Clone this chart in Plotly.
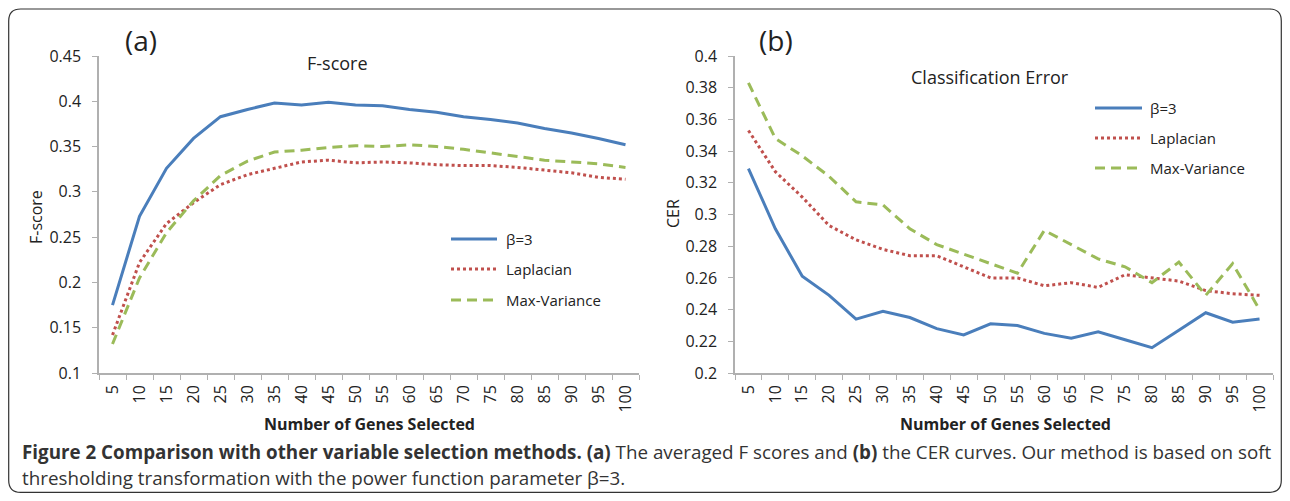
import plotly.graph_objects as go

# figure sized to fit inside the page body (default 8px body margin) of a 1290x501 window
OFF = 8
W, H = 1274, 485

genes = [str(g) for g in range(5, 105, 5)]
series_names = ["β=3", "Laplacian", "Max-Variance"]

fscore_beta3 = [0.175, 0.273, 0.326, 0.359, 0.383, 0.391, 0.398, 0.396, 0.399, 0.396,
                0.395, 0.391, 0.388, 0.383, 0.380, 0.376, 0.370, 0.365, 0.359, 0.352]
fscore_laplacian = [0.142, 0.222, 0.265, 0.288, 0.308, 0.319, 0.326, 0.333, 0.335, 0.332,
                    0.333, 0.332, 0.330, 0.329, 0.329, 0.327, 0.324, 0.321, 0.316, 0.314]
fscore_maxvar = [0.132, 0.205, 0.255, 0.290, 0.318, 0.334, 0.344, 0.346, 0.349, 0.351,
                 0.350, 0.352, 0.350, 0.347, 0.343, 0.339, 0.335, 0.333, 0.331, 0.327]

cer_beta3 = [0.329, 0.291, 0.261, 0.249, 0.234, 0.239, 0.235, 0.228, 0.224, 0.231,
             0.230, 0.225, 0.222, 0.226, 0.221, 0.216, 0.227, 0.238, 0.232, 0.234]
cer_laplacian = [0.353, 0.327, 0.311, 0.293, 0.284, 0.278, 0.274, 0.274, 0.267, 0.260,
                 0.260, 0.255, 0.257, 0.254, 0.262, 0.260, 0.258, 0.252, 0.250, 0.249]
cer_maxvar = [0.383, 0.348, 0.337, 0.324, 0.308, 0.306, 0.291, 0.281, 0.275, 0.269,
              0.263, 0.290, 0.281, 0.272, 0.267, 0.257, 0.270, 0.249, 0.269, 0.240]

fscore_ticks = [0.1, 0.15, 0.2, 0.25, 0.3, 0.35, 0.4, 0.45]
fscore_ticktext = ["0.1", "0.15", "0.2", "0.25", "0.3", "0.35", "0.4", "0.45"]
cer_ticks = [0.2, 0.22, 0.24, 0.26, 0.28, 0.3, 0.32, 0.34, 0.36, 0.38, 0.4]
cer_ticktext = ["0.2", "0.22", "0.24", "0.26", "0.28", "0.3", "0.32", "0.34", "0.36", "0.38", "0.4"]

colors = ["#4a7ebb", "#c0504d", "#9bbb59"]
dashes = ["solid", "dot", "10px,6px"]

FONT = "Open Sans"
TXT = "#222"

def px(x):
    return (x - OFF) / W

def py(y):
    return 1 - (y - OFF) / H

fig = go.Figure()

for i, (name, vals) in enumerate(zip(series_names, [fscore_beta3, fscore_laplacian, fscore_maxvar])):
    fig.add_trace(go.Scatter(x=genes, y=vals, mode="lines", name=name,
                             line=dict(color=colors[i], width=3, dash=dashes[i]),
                             xaxis="x", yaxis="y", showlegend=False))
for i, (name, vals) in enumerate(zip(series_names, [cer_beta3, cer_laplacian, cer_maxvar])):
    fig.add_trace(go.Scatter(x=genes, y=vals, mode="lines", name=name,
                             line=dict(color=colors[i], width=3, dash=dashes[i]),
                             xaxis="x2", yaxis="y2", showlegend=False))

axis_common = dict(showgrid=False, zeroline=False, showline=True, linecolor="#b0b0b0",
                   linewidth=1.5, ticks="outside", tickcolor="#b0b0b0", ticklen=5,
                   automargin=False,
                   tickfont=dict(family=FONT, size=16, color=TXT))

xaxis_common = dict(axis_common, type="category", tickangle=-90, tickson="boundaries",
                    categoryorder="array", categoryarray=genes,
                    range=[-0.5, len(genes) - 0.5], ticklabelstandoff=4)

yaxis_common = dict(axis_common, ticklabelstandoff=8)

plot_top, plot_bot = 56, 373

fig.update_layout(
    width=W, height=H,
    margin=dict(l=0, r=0, t=0, b=0),
    paper_bgcolor="white", plot_bgcolor="white",
    showlegend=False,
    xaxis=dict(xaxis_common, domain=[px(99), px(639)], anchor="y"),
    yaxis=dict(yaxis_common, domain=[py(plot_bot), py(plot_top)], anchor="x",
               range=[0.1, 0.45], tickvals=fscore_ticks, ticktext=fscore_ticktext),
    xaxis2=dict(xaxis_common, domain=[px(735), px(1273)], anchor="y2"),
    yaxis2=dict(yaxis_common, domain=[py(plot_bot), py(plot_top)], anchor="x2",
                range=[0.2, 0.4], tickvals=cer_ticks, ticktext=cer_ticktext),
)

ann = []
def text(x, y, s, size, bold=False, angle=0, xanchor="center", color=TXT):
    ann.append(dict(xref="paper", yref="paper", x=px(x), y=py(y), text=("<b>%s</b>" % s) if bold else s,
                    showarrow=False, xanchor=xanchor, yanchor="middle", textangle=angle,
                    font=dict(family=FONT, size=size, color=color)))

text(141, 40, "(a)", 28)
text(776, 40, "(b)", 28)
text(337, 63, "F-score", 18)
text(990, 77, "Classification Error", 18)
text(36, 217, "F-score", 16, angle=-90)
text(673, 214, "CER", 16, angle=-90)
text(369, 424, "Number of Genes Selected", 16, bold=True)
text(1005, 424, "Number of Genes Selected", 16, bold=True)

caption1 = ("<b>Figure 2 Comparison with other variable selection methods.</b> <b>(a)</b> The averaged F scores and "
            "<b>(b)</b> the CER curves. Our method is based on soft")
caption2 = "thresholding transformation with the power function parameter β=3."
text(20, 452, caption1, 18.8, xanchor="left", color="#333")
text(20, 478, caption2, 18.8, xanchor="left", color="#333")

# legends (swatch lines + labels)
legend_pos = [(451, 497, 504, [239, 269, 300]), (1095, 1142, 1148, [108, 138, 168])]
shapes = []
for (lx0, lx1, tx, rows) in legend_pos:
    for i, name in enumerate(series_names):
        shapes.append(dict(type="line", xref="paper", yref="paper",
                           x0=px(lx0), x1=px(lx1), y0=py(rows[i]), y1=py(rows[i]),
                           line=dict(color=colors[i], width=3, dash=dashes[i])))
        text(tx, rows[i], name, 15, xanchor="left")

fig.update_layout(annotations=ann)

# rounded border frame
r = 12
x0, x1, y0, y1 = px(8.7), px(1281.3), py(9), py(492.3)
rx, ry = r / W, r / H
path = (f"M {x0+rx},{y0} L {x1-rx},{y0} Q {x1},{y0} {x1},{y0-ry} L {x1},{y1+ry} "
        f"Q {x1},{y1} {x1-rx},{y1} L {x0+rx},{y1} Q {x0},{y1} {x0},{y1+ry} L {x0},{y0-ry} "
        f"Q {x0},{y0} {x0+rx},{y0} Z")
shapes.append(dict(type="path", xref="paper", yref="paper", path=path,
                   line=dict(color="#333", width=1.2)))
fig.update_layout(shapes=shapes)

fig.write_html("out.html")
